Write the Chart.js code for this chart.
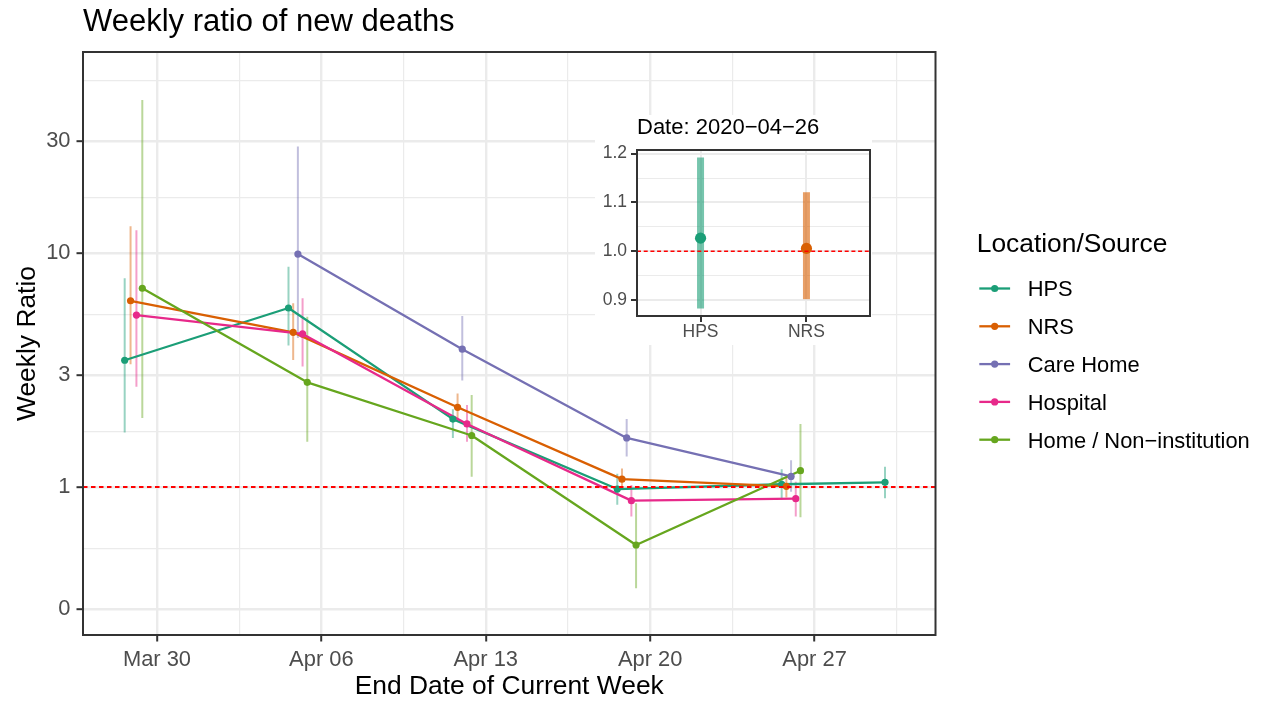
<!DOCTYPE html>
<html>
<head>
<meta charset="utf-8">
<script src="https://cdn.jsdelivr.net/npm/chart.js@4.4.0/dist/chart.umd.min.js"></script>
<style>
html,body{margin:0;padding:0;background:#ffffff;}
#wrap{position:relative;width:1266px;height:705px;overflow:hidden;}
#main{position:absolute;left:0;top:0;}
#inset{position:absolute;left:595px;top:115px;background:#ffffff;}
</style>
</head>
<body>
<div id="wrap">
<canvas id="main" width="1266" height="705"></canvas>
<canvas id="inset" width="277" height="230"></canvas>
</div>
<script>
// ---------------- DATA ----------------
const chartTitle = 'Weekly ratio of new deaths';
const xAxisTitle = 'End Date of Current Week';
const yAxisTitle = 'Weekly Ratio';
const legendTitle = 'Location/Source';

const seriesNames = ['HPS', 'NRS', 'Care Home', 'Hospital', 'Home / Non\u2212institution'];
const seriesColors = ['#1B9E77', '#D95F02', '#7570B3', '#E7298A', '#66A61E'];

const xTickDates = ['2020-03-30', '2020-04-06', '2020-04-13', '2020-04-20', '2020-04-27'];
const xTickLabels = ['Mar 30', 'Apr 06', 'Apr 13', 'Apr 20', 'Apr 27'];

const yTickValues = [0.3, 1, 3, 10, 30];
const yTickLabels = ['0', '1', '3', '10', '30'];
const yAxisMin = 0.233;
const yAxisMax = 72.3;
const refRatio = 1;

const hpsDates = ['2020-03-29', '2020-04-05', '2020-04-12', '2020-04-19', '2020-04-26', '2020-04-30'];
const hpsRatio = [3.48, 5.82, 1.95, 0.98, 1.027, 1.047];
const hpsLower = [1.71, 4.02, 1.62, 0.84, 0.883, 0.895];
const hpsUpper = [7.80, 8.74, 2.15, 1.14, 1.192, 1.22];

const nrsDates = ['2020-03-29', '2020-04-05', '2020-04-12', '2020-04-19', '2020-04-26'];
const nrsRatio = [6.25, 4.58, 2.19, 1.08, 1.006];
const nrsLower = [3.35, 3.49, 1.92, 0.97, 0.902];
const nrsUpper = [13.0, 6.10, 2.51, 1.20, 1.121];

const careDates = ['2020-04-05', '2020-04-12', '2020-04-19', '2020-04-26'];
const careRatio = [9.9, 3.88, 1.62, 1.11];
const careLower = [4.33, 2.85, 1.35, 0.955];
const careUpper = [28.5, 5.38, 1.95, 1.30];

const hospDates = ['2020-03-29', '2020-04-05', '2020-04-12', '2020-04-19', '2020-04-26'];
const hospRatio = [5.43, 4.51, 1.86, 0.874, 0.891];
const hospLower = [2.68, 3.27, 1.56, 0.747, 0.747];
const hospUpper = [12.5, 6.40, 2.24, 1.02, 1.053];

const homeDates = ['2020-03-29', '2020-04-05', '2020-04-12', '2020-04-19', '2020-04-26'];
const homeRatio = [7.07, 2.80, 1.66, 0.565, 1.174];
const homeLower = [1.97, 1.56, 1.107, 0.369, 0.742];
const homeUpper = [45.1, 5.34, 2.47, 0.852, 1.86];

// inset
const insetTitle = 'Date: 2020\u221204\u221226';
const insetCategories = ['HPS', 'NRS'];
const insetColors = ['#1B9E77', '#D95F02'];
const insetRatio = [1.027, 1.006];
const insetLower = [0.883, 0.902];
const insetUpper = [1.192, 1.121];
const insetYTickValues = [0.9, 1.0, 1.1, 1.2];
const insetYTickLabels = ['0.9', '1.0', '1.1', '1.2'];

// ---------------- HELPERS ----------------
const FONT = "'Liberation Sans', Arial, Helvetica, sans-serif";
Chart.defaults.font.family = FONT;
const GRID = '#EBEBEB';
const INK = '#333333';
const TICKTXT = '#4D4D4D';
const dodgeWidth = 1;

const origin = (function(){ const p = xTickDates[0].split('-').map(Number); return Date.UTC(p[0], p[1]-1, p[2]); })();
function dayNum(s){ const p = s.split('-').map(Number); return (Date.UTC(p[0], p[1]-1, p[2]) - origin) / 86400000; }
function alpha(hex, a){ const n = parseInt(hex.slice(1), 16); return `rgba(${(n>>16)&255},${(n>>8)&255},${n&255},${a})`; }

// ggplot-like minor breaks (midpoints, extended one step)
function minorBreaks(b0, lo, hi){
  const b = b0.slice(); const bd = b[1] - b[0];
  if (lo < b[0]) b.unshift(b[0] - bd);
  if (hi > b[b.length-1]) b.push(b[b.length-1] + bd);
  const m = [];
  for (let i = 0; i < b.length - 1; i++) m.push((b[i] + b[i+1]) / 2);
  return m.filter(v => v > lo && v < hi);
}
function tickList(majors, labels, minors){
  const t = majors.map((v, i) => ({value: v, lbl: labels[i], minor: false}))
    .concat(minors.map(v => ({value: v, lbl: '', minor: true})));
  return t.sort((a, b) => a.value - b.value);
}
const isMinor = c => !!(c.tick && c.tick.minor);
function fixH(h){ return s => { s.height = h; s.paddingLeft = 0; s.paddingRight = 0; s.paddingTop = 0; s.paddingBottom = 0; }; }
function fixW(w){ return s => { s.width = w; s.paddingLeft = 0; s.paddingRight = 0; s.paddingTop = 0; s.paddingBottom = 0; }; }

const series = [
  {dates: hpsDates, ratio: hpsRatio, lower: hpsLower, upper: hpsUpper},
  {dates: nrsDates, ratio: nrsRatio, lower: nrsLower, upper: nrsUpper},
  {dates: careDates, ratio: careRatio, lower: careLower, upper: careUpper},
  {dates: hospDates, ratio: hospRatio, lower: hospLower, upper: hospUpper},
  {dates: homeDates, ratio: homeRatio, lower: homeLower, upper: homeUpper}
];

// dodge groups
const groups = {};
series.forEach((s, si) => s.dates.forEach(d => { (groups[d] = groups[d] || []).push(si); }));
function xPos(si, d){ const g = groups[d]; const n = g.length; const k = g.indexOf(si); return dayNum(d) + (k - (n - 1) / 2) * dodgeWidth / n; }

const allDays = Object.keys(groups).map(dayNum);
const xLo = Math.min(...allDays) - dodgeWidth / 2, xHi = Math.max(...allDays) + dodgeWidth / 2;
const xPad = 0.05 * (xHi - xLo);
const xMin = xLo - xPad, xMax = xHi + xPad;

const xMajors = xTickDates.map(dayNum);
const xTicks = tickList(xMajors, xTickLabels, minorBreaks(xMajors, xMin, xMax));
const yLogMajors = yTickValues.map(Math.log10);
const yTicks = tickList(yTickValues, yTickLabels,
  minorBreaks(yLogMajors, Math.log10(yAxisMin), Math.log10(yAxisMax)).map(v => Math.pow(10, v)));

// datasets
const datasets = [];
series.forEach((s, si) => {
  const err = [];
  s.dates.forEach((d, j) => { const x = xPos(si, d); err.push({x, y: s.lower[j]}, {x, y: s.upper[j]}, {x, y: null}); });
  datasets.push({type: 'line', label: seriesNames[si] + ' CI', data: err, borderColor: alpha(seriesColors[si], 0.45),
    borderWidth: 2, pointRadius: 0, spanGaps: false, borderCapStyle: 'butt', order: 30 - si});
  const pts = s.dates.map((d, j) => ({x: xPos(si, d), y: s.ratio[j]}));
  datasets.push({type: 'line', label: seriesNames[si], data: pts, borderColor: seriesColors[si], borderWidth: 2.3,
    borderJoinStyle: 'round', pointRadius: 0, tension: 0, order: 20 - si});
  datasets.push({type: 'line', label: seriesNames[si] + ' pts', data: pts, showLine: false, pointRadius: 3.6,
    pointHoverRadius: 3.6, pointBackgroundColor: seriesColors[si], pointBorderWidth: 0, order: 10 - si});
});

function panelDecor(dash, refWidth, borderWidth){
  return {
    id: 'panelDecor',
    afterDatasetsDraw(chart){
      const {ctx, chartArea: a} = chart;
      const py = chart.scales.y.getPixelForValue(refRatio);
      ctx.save();
      ctx.strokeStyle = '#FF0000'; ctx.lineWidth = refWidth; ctx.setLineDash(dash);
      ctx.beginPath(); ctx.moveTo(a.left, py); ctx.lineTo(a.right, py); ctx.stroke();
      ctx.setLineDash([]);
      ctx.strokeStyle = INK; ctx.lineWidth = borderWidth;
      ctx.strokeRect(a.left, a.top, a.right - a.left, a.bottom - a.top);
      ctx.restore();
    }
  };
}

const ggLegend = {
  id: 'ggLegend',
  afterDraw(chart){
    const {ctx, chartArea: a} = chart;
    const mid = (a.top + a.bottom) / 2;
    const x0 = a.right + 41.2;
    ctx.save();
    ctx.textAlign = 'left'; ctx.textBaseline = 'alphabetic';
    ctx.fillStyle = '#000000'; ctx.font = `26.4px ${FONT}`;
    ctx.fillText(legendTitle, x0, mid - 92);
    seriesNames.forEach((name, i) => {
      const cy = mid - 55 + i * 37.8;
      ctx.strokeStyle = seriesColors[i]; ctx.lineWidth = 2.3;
      ctx.beginPath(); ctx.moveTo(x0 + 2.6, cy); ctx.lineTo(x0 + 33.4, cy); ctx.stroke();
      ctx.fillStyle = seriesColors[i];
      ctx.beginPath(); ctx.arc(x0 + 18, cy, 3.6, 0, Math.PI * 2); ctx.fill();
      ctx.fillStyle = '#000000'; ctx.font = `21.9px ${FONT}`;
      ctx.fillText(name, x0 + 51, cy + 7.8);
    });
    ctx.restore();
  }
};

const gridOpts = {
  color: GRID,
  lineWidth: c => isMinor(c) ? 1.2 : 2.4,
  drawTicks: true, tickLength: 6.5, tickWidth: 2,
  tickColor: c => isMinor(c) ? 'rgba(0,0,0,0)' : INK
};

new Chart(document.getElementById('main'), {
  type: 'line',
  data: {datasets},
  options: {
    responsive: false, animation: false, events: [],
    layout: {autoPadding: false, padding: {left: 0, right: 330.5, top: 0, bottom: 0}},
    plugins: {
      legend: {display: false}, tooltip: {enabled: false},
      title: {display: true, text: chartTitle, align: 'start', fullSize: false, color: '#000000',
        font: {size: 31, weight: 'normal', family: FONT}, padding: {top: 4, bottom: 10.8}}
    },
    scales: {
      x: {
        type: 'linear', position: 'bottom', min: xMin, max: xMax, bounds: 'data',
        afterBuildTicks: s => { s.ticks = xTicks.map(t => Object.assign({}, t)); },
        afterFit: fixH(70),
        grid: gridOpts, border: {display: false},
        ticks: {autoSkip: false, maxRotation: 0, padding: 5, color: TICKTXT, font: {size: 21.9, family: FONT},
          callback: (v, i, t) => t[i].lbl},
        title: {display: true, text: xAxisTitle, color: '#000000', font: {size: 26.4, family: FONT}, padding: {top: 0, bottom: 2.5}}
      },
      y: {
        type: 'logarithmic', position: 'left', min: yAxisMin, max: yAxisMax, bounds: 'data',
        afterBuildTicks: s => { s.ticks = yTicks.map(t => Object.assign({}, t)); },
        afterFit: fixW(83),
        grid: gridOpts, border: {display: false},
        ticks: {autoSkip: false, padding: 6, color: TICKTXT, font: {size: 21.9, family: FONT},
          callback: (v, i, t) => t[i].lbl},
        title: {display: true, text: yAxisTitle, color: '#000000', font: {size: 26.4, family: FONT}, padding: {top: 12, bottom: 0}}
      }
    }
  },
  plugins: [panelDecor([4.5, 3.5], 1.8, 2), ggLegend]
});

// ---------------- INSET ----------------
const insetX = insetCategories.map((c, i) => i + 1);
const insetYLo = Math.min(...insetLower), insetYHi = Math.max(...insetUpper);
const insetYPad = 0.05 * (insetYHi - insetYLo);
const insetYMin = insetYLo - insetYPad, insetYMax = insetYHi + insetYPad;
const insetXTicks = tickList(insetX, insetCategories, []);
const insetYTicks = tickList(insetYTickValues, insetYTickLabels, minorBreaks(insetYTickValues, insetYMin, insetYMax));

const insetDatasets = [];
insetCategories.forEach((c, i) => {
  insetDatasets.push({type: 'line', label: c + ' CI',
    data: [{x: insetX[i], y: insetLower[i]}, {x: insetX[i], y: insetUpper[i]}],
    borderColor: alpha(insetColors[i], 0.6), borderWidth: 7, borderCapStyle: 'butt', pointRadius: 0, order: 10 - i});
  insetDatasets.push({type: 'line', label: c, data: [{x: insetX[i], y: insetRatio[i]}], showLine: false,
    pointRadius: 5.6, pointHoverRadius: 5.6, pointBackgroundColor: insetColors[i], pointBorderWidth: 0, order: 5 - i});
});

const insetGrid = {
  color: GRID,
  lineWidth: c => isMinor(c) ? 1 : 2,
  drawTicks: true, tickLength: 6, tickWidth: 2,
  tickColor: c => isMinor(c) ? 'rgba(0,0,0,0)' : INK
};

new Chart(document.getElementById('inset'), {
  type: 'line',
  data: {datasets: insetDatasets},
  options: {
    responsive: false, animation: false, events: [],
    layout: {autoPadding: false, padding: {left: 0, right: 2, top: 0, bottom: 0}},
    plugins: {
      legend: {display: false}, tooltip: {enabled: false},
      title: {display: true, text: insetTitle, align: 'start', fullSize: false, color: '#000000',
        font: {size: 22, weight: 'normal', family: FONT, lineHeight: 1}, padding: {top: 1.5, bottom: 11.5}}
    },
    scales: {
      x: {
        type: 'linear', min: 1 - 0.6, max: insetCategories.length + 0.6, bounds: 'data',
        afterBuildTicks: s => { s.ticks = insetXTicks.map(t => Object.assign({}, t)); },
        afterFit: fixH(29),
        grid: insetGrid, border: {display: false},
        ticks: {autoSkip: false, maxRotation: 0, padding: 0, color: TICKTXT, font: {size: 17.5, family: FONT},
          callback: (v, i, t) => t[i].lbl}
      },
      y: {
        type: 'linear', min: insetYMin, max: insetYMax, bounds: 'data',
        afterBuildTicks: s => { s.ticks = insetYTicks.map(t => Object.assign({}, t)); },
        afterFit: fixW(42),
        grid: insetGrid, border: {display: false},
        ticks: {autoSkip: false, padding: 4, color: TICKTXT, font: {size: 17.5, family: FONT},
          callback: (v, i, t) => t[i].lbl}
      }
    }
  },
  plugins: [panelDecor([4, 2.7], 1.6, 2)]
});
</script>
</body>
</html>
